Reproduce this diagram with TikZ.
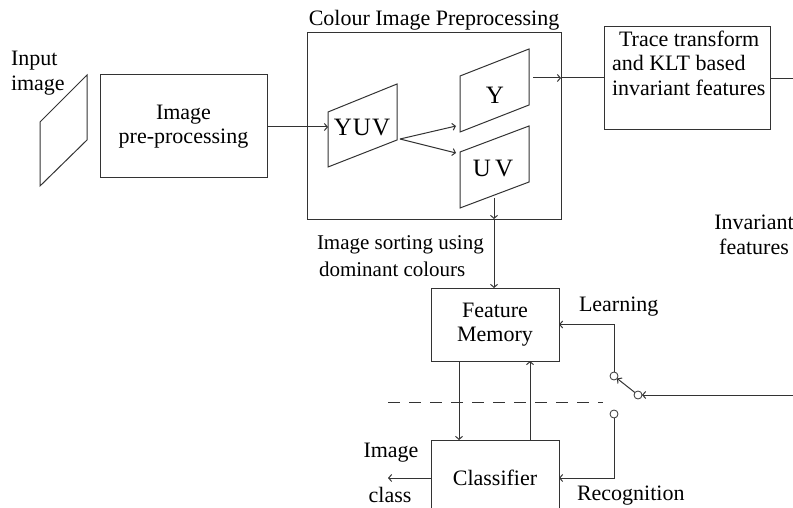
\documentclass[tikz,border=0pt]{standalone}
\usepackage{fontspec}
\setmainfont{Liberation Serif}
\newfontfamily\tms{Liberation Serif}
\usetikzlibrary{arrows.meta}
\begin{document}
\begin{tikzpicture}[x=1pt,y=-1pt,
  line width=1pt, draw=black!80,
  every node/.style={inner sep=0pt, outer sep=0pt, font=\tms\fontsize{22}{24.5}\selectfont},
  box/.style={draw=black!80, rectangle, align=center},
  lbl/.style={align=left},
  big/.style={font=\tms\fontsize{25}{28}\selectfont},
  arr/.style={-{Straight Barb[length=3pt,width=7pt]}},
  sw/.style={draw=black!80, circle, fill=white, minimum size=8pt, line width=0.8pt}
]
\useasboundingbox (0,0) rectangle (793,508);
\clip (0,0) rectangle (793,508);

% input image
\draw (40,122) -- (87,75) -- (87,140) -- (40,186) -- cycle;
\node[lbl, anchor=west] (inlbl) at (11,73) {Input\\image};

% pre-processing
\node[box, minimum width=167pt, minimum height=103pt] (pre) at (183.5,126.5) {Image\\pre-processing};

% colour image preprocessing
\node[box, minimum width=254pt, minimum height=186pt] (cip) at (434,126) {};
\node (ciptitle) at (434,20) {Colour Image Preprocessing};

% YUV
\draw (328,112) -- (397,84) -- (397,140) -- (328,167) -- cycle;
\node[big] (yuv) at (362,128) {Y\kern1ptU\kern1ptV};
\coordinate (yuvL) at (328,127);
\coordinate (yuvR) at (400,139);
% Y
\draw (460,76) -- (529,49) -- (529,105) -- (460,132) -- cycle;
\node[big] (y) at (495,95) {Y};
\coordinate (yL) at (456,126);
\coordinate (yR) at (533,78);
% UV
\draw (460,152) -- (529,126) -- (529,182) -- (460,208) -- cycle;
\node[big] (uv) at (493,169) {U\,V};
\coordinate (uvL) at (456,153);
\coordinate (uvB) at (494,198);

\draw[arr] (pre.east |- yuvL) -- (yuvL);
\draw[arr] (yuvR) -- (yL);
\draw[arr] (yuvR) -- (uvL);

% trace transform
\node[box, minimum width=166pt, minimum height=103pt] (trace) at (687,78.5) {};
\node[lbl, anchor=north west] (tracetxt) at (612,31) {\hspace{7pt}Trace transform\\and KLT based\\invariant features};
\draw[arr] (yR) -- (cip.east |- yR);
\draw (cip.east |- yR) -- (trace.west |- yR);
\coordinate (rtop) at (793,78.5);
\draw (trace.east) -- (rtop);

\node[align=center] (invf) at (754,235) {Invariant\\features};

% sorting
\node[lbl, anchor=west, font=\tms\fontsize{21}{24.5}\selectfont] (sort) at (317,256) {Image sorting using\\[3pt]\hspace{2pt}dominant colours};
\draw[arr] (uvB) -- (uvB |- cip.south);

% feature memory and classifier
\node[box, minimum width=128pt, minimum height=73pt] (fm) at (495,324.5) {Feature\\Memory};
\node[box, minimum width=128pt, minimum height=76pt] (cls) at (495,478) {Classifier};
\draw[arr] (uvB |- cip.south) -- (uvB |- fm.north);
\draw[arr] ([xshift=-36pt]fm.south) -- ([xshift=-36pt]fm.south |- cls.north);
\draw[arr] ([xshift=35pt]cls.north) -- ([xshift=35pt]cls.north |- fm.south);

% dashed separator
\coordinate (d1) at (388,402);
\coordinate (d2) at (603,402);
\draw[dash pattern=on 12pt off 9pt] (d1) -- (d2);

% switch
\node[sw] (c1) at (614,376) {};
\node[sw] (c2) at (638,395) {};
\node[sw] (c3) at (614,414) {};
\coordinate (rin) at (793,395);
\draw[arr] (rin) -- (c2);
\draw[arr] (c2) -- (c1);
\draw[arr] (c1.north) |- (fm.east);
\draw[arr] (c3.south) |- (cls.east);

\node[anchor=west] (learn) at (579,307) {Learning};
\node[anchor=west] (recog) at (577,496) {Recognition};

% output
\coordinate (out) at (388,478);
\draw[arr] (cls.west) -- (out);
\node (imglbl) at (391,453) {Image};
\node (clslbl) at (390,495) {class};
\end{tikzpicture}
\end{document}
